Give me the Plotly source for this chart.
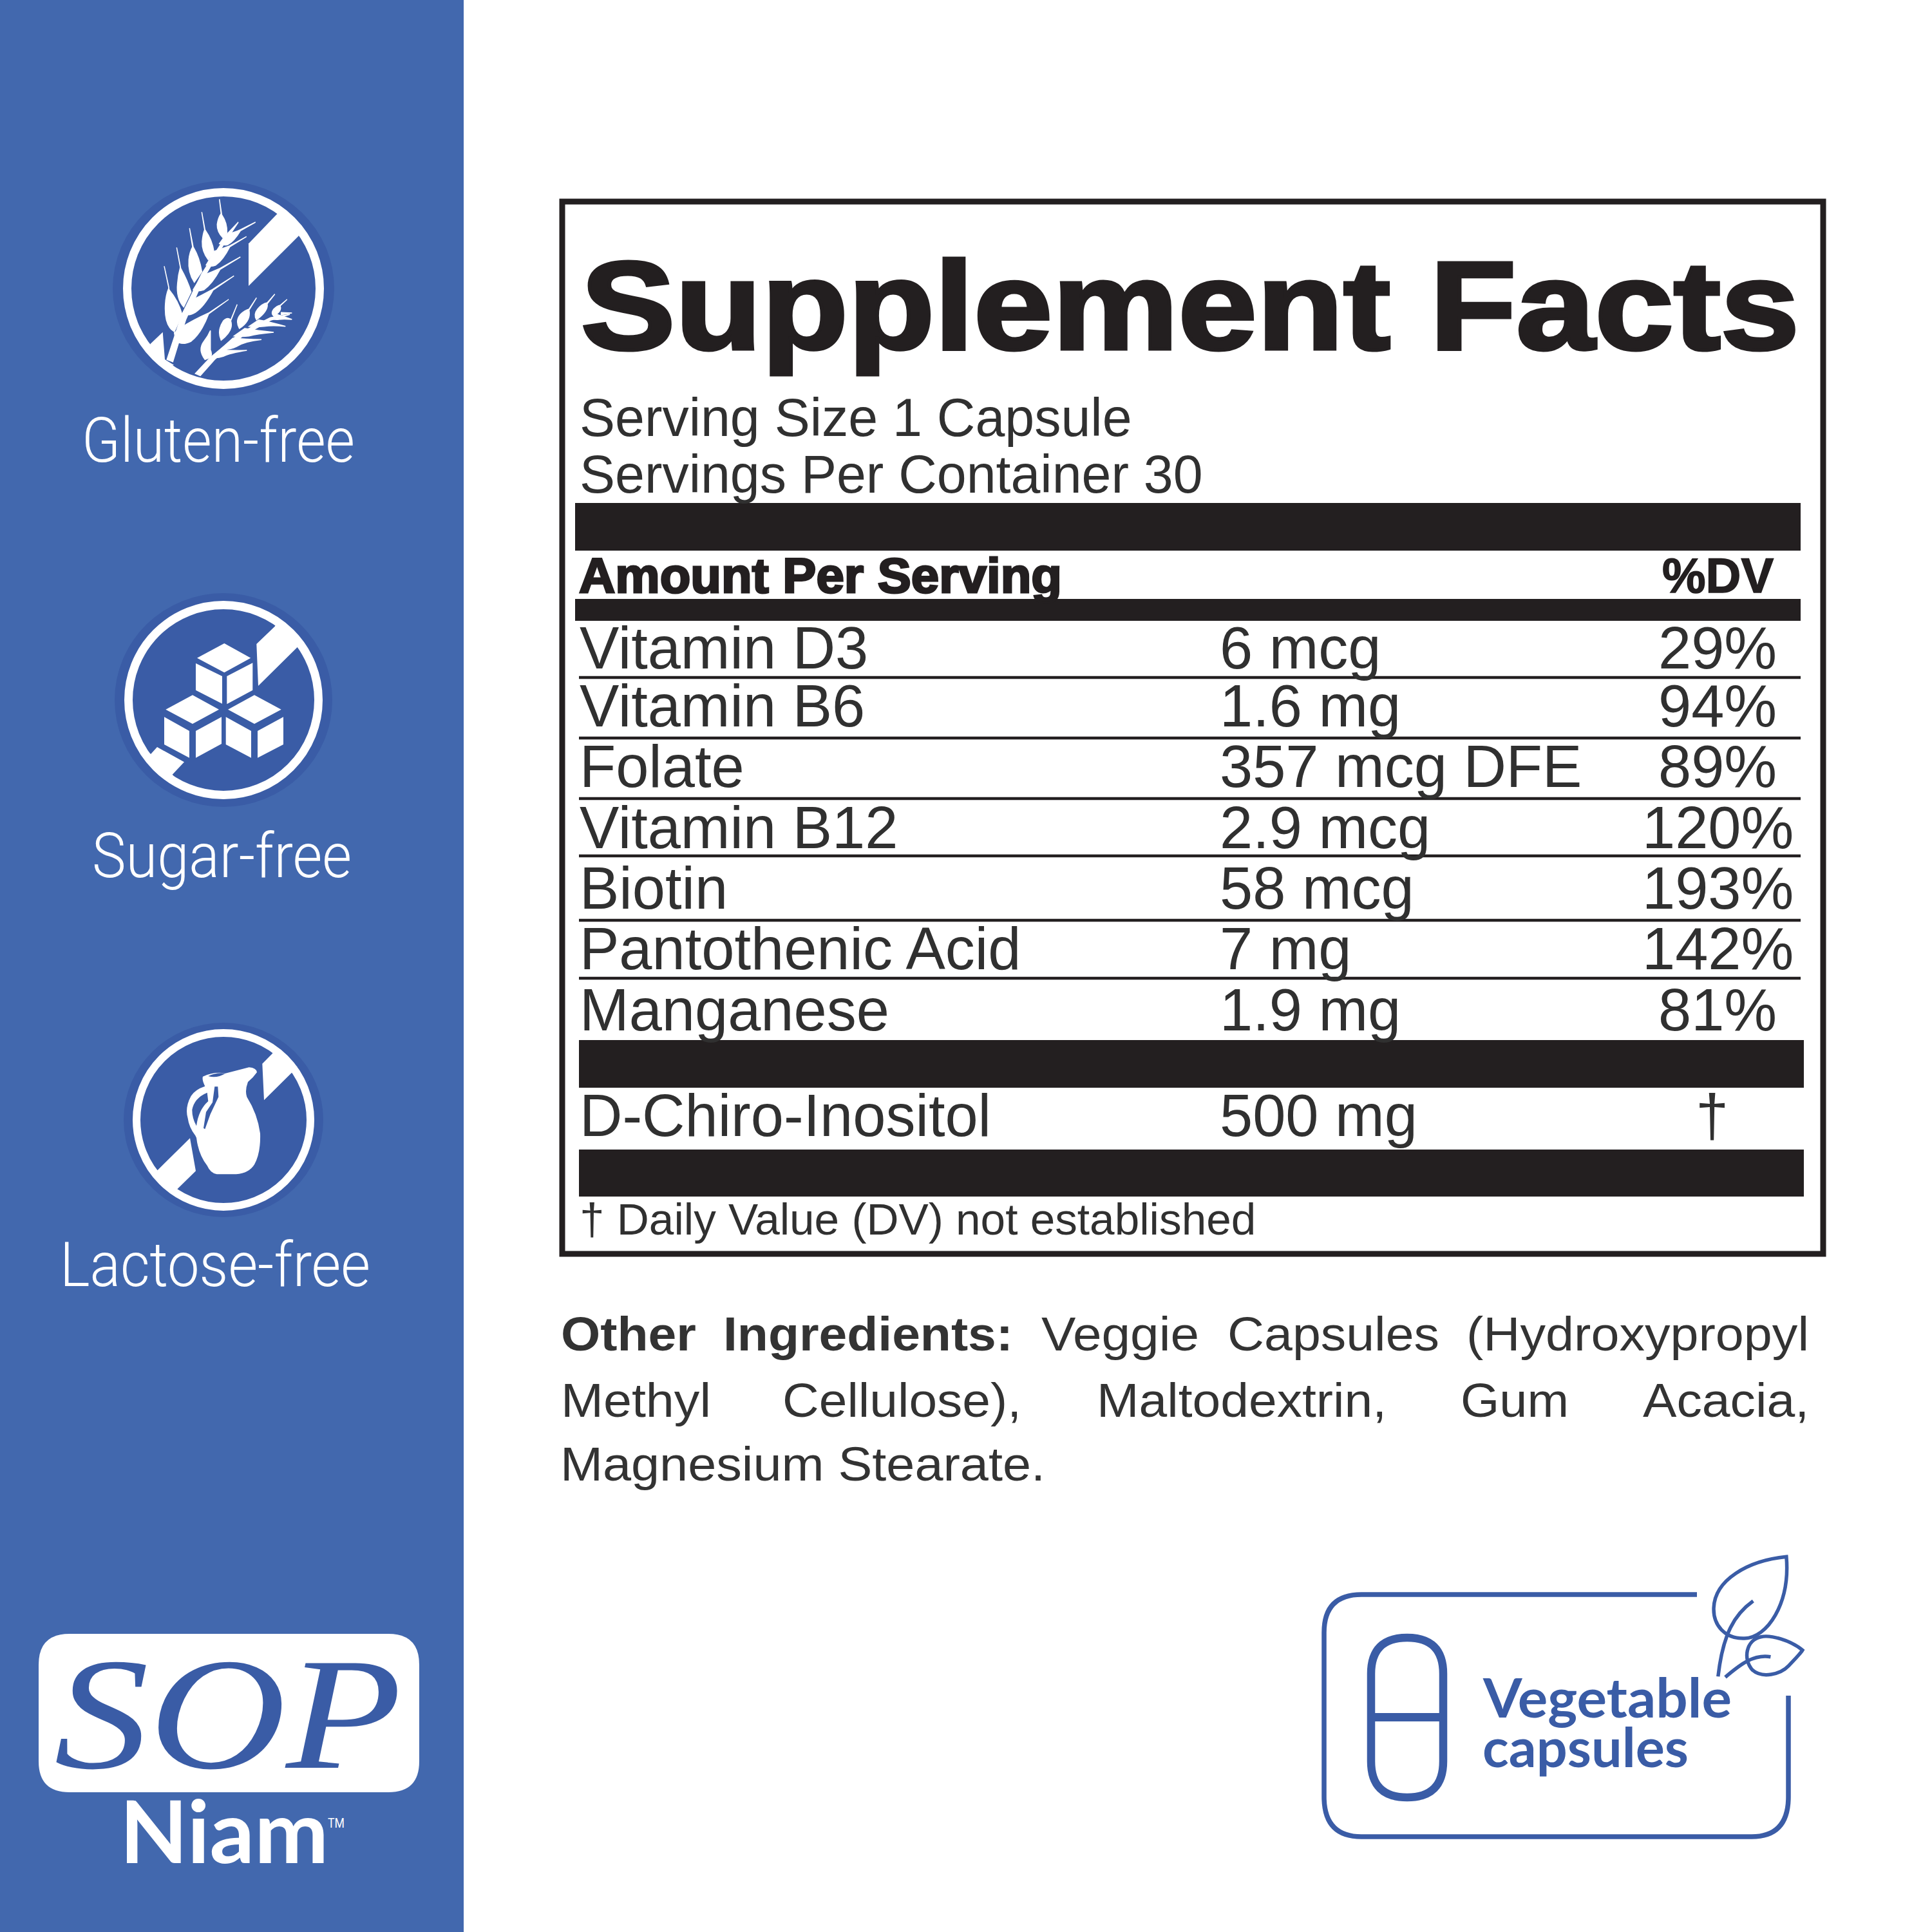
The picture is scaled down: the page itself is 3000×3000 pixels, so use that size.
import json
import re
import plotly.graph_objects as go

# ---------- content ----------
TITLE = "Supplement Facts"
SERVING_LINES = ["Serving Size 1 Capsule", "Servings Per Container 30"]
HEAD_LEFT = "Amount Per Serving"
HEAD_RIGHT = "%DV"
NUTRIENTS = ["Vitamin D3", "Vitamin B6", "Folate", "Vitamin B12", "Biotin", "Pantothenic Acid", "Manganese"]
AMOUNTS = ["6 mcg", "1.6 mg", "357 mcg DFE", "2.9 mcg", "58 mcg", "7 mg", "1.9 mg"]
DV_PERCENT = [29, 94, 89, 120, 193, 142, 81]
BLEND_NAME = "D-Chiro-Inositol"
BLEND_AMOUNT = "500 mg"
BLEND_DV = "†"
FOOTNOTE = "† Daily Value (DV) not established"
BADGES = ["Gluten-free", "Sugar-free", "Lactose-free"]
BRAND_TOP = "SOP"
BRAND_BOTTOM = "Niam"
VEG_LINES = ["Vegetable", "capsules"]
OTHER_BOLD = ["Other", "Ingredients:"]
OTHER_LINE1 = ["Veggie", "Capsules", "(Hydroxypropyl"]
OTHER_LINE2 = ["Methyl", "Cellulose),", "Maltodextrin,", "Gum", "Acacia,"]
OTHER_LINE3 = "Magnesium Stearate."

# ---------- layout constants (pixels of the 3000 x 3000 canvas) ----------
SIDE = "#4268AE"
DISK = "#3A5CA6"
INK = "#231F20"
GREY = "#303030"
ROW_BASE = [1038, 1128, 1222, 1317, 1411, 1505, 1600]
ROW_RULES = [1052, 1146, 1240, 1329, 1429, 1519]
BARS = [(893, 2796, 781, 855), (893, 2796, 930, 964), (899, 2801, 1615, 1689), (899, 2801, 1785, 1858)]
ASC = {"Liberation Sans": 0.905, "Liberation Serif": 0.891, "Roboto": 0.927, "Lato": 0.987}

shapes, annotations, fits = [], [], []


def tf(path, ox, oy, sx=3.0, sy=3.0):
    """Map an outline traced on a zoomed crop to canvas pixels."""
    out, k = [], 0
    for tok in re.findall(r"[A-Za-z]|-?[\d.]+", path):
        if tok.isalpha():
            out.append(tok)
        else:
            v = float(tok)
            v = ox + v / sx if k % 2 == 0 else oy + v / sy
            out.append(f"{v:.1f}")
            k += 1
    return " ".join(out)


def fill(path, color="white", edge=0):
    shapes.append(dict(type="path", path=path, fillcolor=color, line=dict(width=edge, color=color), xref="x", yref="y"))


def stroke(path, width, color=DISK):
    shapes.append(dict(type="path", path=path, fillcolor="rgba(0,0,0,0)", line=dict(width=width, color=color), xref="x", yref="y"))


def rect(x0, x1, y0, y1, color):
    shapes.append(dict(type="rect", x0=x0, x1=x1, y0=y0, y1=y1, fillcolor=color, line=dict(width=0), xref="x", yref="y"))


def disc(cx, cy, rx, ry, color):
    shapes.append(dict(type="circle", x0=cx - rx, x1=cx + rx, y0=cy - ry, y1=cy + ry, fillcolor=color, line=dict(width=0), xref="x", yref="y"))


def ring(cx, cy, r, w):
    shapes.append(dict(type="circle", x0=cx - r, x1=cx + r, y0=cy - r, y1=cy + r, fillcolor="rgba(0,0,0,0)", line=dict(width=w, color="white"), xref="x", yref="y"))


def text(s, x, base, size, family="Liberation Sans", color=INK, weight=400, anchor="left", style="normal", fit=None, adjust="spacingAndGlyphs", heavy=0):
    y = base - ASC[family] * size
    annotations.append(dict(text=s, x=x, y=y, xref="x", yref="y", xanchor=anchor, yanchor="top", align=anchor, showarrow=False,
                            borderpad=0, borderwidth=0,
                            font=dict(family=family, size=size, color=color, weight=weight, style=style)))
    if fit or heavy:
        fits.append([len(annotations) - 1, fit, adjust, heavy, color])


# ---------- side panel ----------
rect(0, 720, 0, 3000, SIDE)

# gluten icon
Z1 = (100, 250)
disc(347, 448, 172, 167, DISK)
ring(347, 448, 149.5, 13)
fill(tf("M988,250 L858,385 L858,582 L1090,350 L1110,320 L1010,230 Z", *Z1))
fill(tf("M403,850 L458,797 L468,925 L510,950 L470,965 L380,880 Z", *Z1))
GLUTEN_WHEAT = [
    "M478,925 L545,720 L640,525 L740,370 L750,375 L655,535 L565,740 L505,935 Z",
    "M465,490 L488,600 Q530,650 548,715 L512,795 Q465,770 470,670 Q472,625 487,590 Z",
    "M523,403 L542,500 Q575,560 590,610 L556,680 Q520,640 527,570 Q530,530 540,495 Z",
    "M583,313 L600,400 Q630,450 640,515 L605,565 Q575,520 580,460 Q583,425 597,400 Z",
    "M640,238 L655,320 Q690,370 697,425 L670,460 Q640,420 642,375 Q645,340 653,320 Z",
    "M722,178 L733,250 Q760,290 757,335 L740,360 Q710,330 712,295 Q716,265 730,245 Z",
    "M545,775 Q600,740 672,708 L765,645 L672,712 Q640,800 590,840 Q550,860 520,840 L512,800 Z",
    "M590,650 Q640,625 690,598 L790,535 L692,602 Q650,680 610,705 Q575,725 555,710 Z",
    "M640,535 Q680,520 725,500 L820,447 L725,505 Q690,570 650,600 Q620,610 600,600 Z",
    "M700,420 Q730,410 770,395 L848,352 L770,400 Q740,460 705,485 Q680,495 660,485 Z",
    "M755,340 Q790,335 820,320 L890,285 L820,325 Q790,375 760,390 Q740,395 722,385 Z",
    "M810,285 L762,335 L775,338 Z",
    "M610,990 L680,915 L820,800 L960,730 L1050,715 L960,742 L830,815 L700,925 L633,1000 Z",
    "M680,790 L680,880 Q690,900 680,915 L655,925 Q620,880 650,840 Q670,815 680,790 Z",
    "M805,668 L775,745 Q790,790 730,835 Q710,790 740,745 Q760,725 775,740 Z",
    "M895,637 L860,695 Q870,745 815,780 Q795,745 820,715 Q840,695 860,690 Z",
    "M980,620 L945,665 Q950,700 895,740 Q880,715 900,690 Q920,665 945,660 Z",
    "M1037,645 L1005,675 Q1015,700 975,722 Q960,710 975,690 Q990,675 1005,672 Z",
    "M850,882 Q770,895 740,910 Q710,920 680,915 L730,880 Q780,885 850,882 Z",
    "M918,832 Q840,840 800,865 Q770,880 730,875 L785,825 Q840,830 918,832 Z",
    "M975,798 Q900,805 860,815 Q825,820 790,815 L840,780 Q900,790 975,798 Z",
    "M1030,770 Q970,765 930,770 Q890,775 860,770 L905,740 Q960,750 1030,770 Z",
    "M1060,738 Q1020,735 1000,738 Q980,740 965,735 L990,715 Q1020,725 1060,738 Z",
    "M1060,708 L1010,706 L1010,716 Z",
]
for p in GLUTEN_WHEAT:
    fill(tf(p, *Z1), edge=1.5)

# sugar icon
Z2 = (100, 900)
disc(347, 1087, 169, 166, DISK)
ring(347, 1087, 147.5, 13)
SUGAR_WHITE = [
    "M980,218 L895,300 L903,495 L1085,315 L1110,290 L1000,190 Z",
    "M403,812 L432,780 L558,850 L503,908 L525,935 L480,920 L380,810 Z",
    "M745,297 L868,365 L745,433 L618,365 Z", "M612,390 L735,450 L735,578 L612,515 Z", "M757,450 L877,388 L877,515 L757,580 Z",
    "M597,538 L720,605 L597,672 L472,605 Z", "M465,640 L582,705 L582,830 L465,768 Z", "M612,705 L732,640 L732,765 L612,830 Z",
    "M885,538 L1010,605 L885,672 L762,605 Z", "M752,640 L870,705 L870,830 L752,768 Z", "M900,705 L1020,640 L1020,768 L900,830 Z",
]
for p in SUGAR_WHITE:
    fill(tf(p, *Z2))

# lactose icon
Z3 = (100, 1560)
disc(347, 1739, 155, 151, DISK)
ring(347, 1739, 135, 12)
fill(tf("M965,232 L922,275 L930,445 L1058,318 L1085,290 L990,205 Z", *Z3))
fill(tf("M435,770 L585,622 L612,775 L530,855 L510,875 L410,785 Z", *Z3))
fill(tf("M645,335 Q700,310 750,320 L860,292 Q895,295 897,315 Q880,340 855,360 Q840,400 850,430 Q900,510 912,600 Q915,690 885,745 Q860,785 800,790 L710,790 Q680,785 665,750 Q625,700 615,620 L610,610 Q580,570 575,530 Q560,480 590,425 Q610,395 655,380 Q640,350 645,335 Z", *Z3))
fill(tf("M665,410 Q605,435 595,490 Q595,530 615,565 Q625,490 670,450 Z", *Z3), DISK)
fill(tf("M700,382 L715,382 L718,430 L680,510 L655,580 L648,575 L660,500 L690,455 Z", *Z3), DISK)
fill(tf("M670,333 Q705,315 750,320 Q710,345 670,333 Z", *Z3), DISK)

text(BADGES[0], 127, 717, 97, "Roboto", "white", 300, fit=424)
text(BADGES[1], 143, 1362, 97, "Roboto", "white", 300, fit=403)
text(BADGES[2], 93, 1997, 97, "Roboto", "white", 300, fit=482)

# brand logo
shapes.append(dict(type="path", xref="x", yref="y", fillcolor="white", line=dict(width=0),
                   path="M108,2537 L603,2537 Q651,2537 651,2585 L651,2735 Q651,2783 603,2783 L108,2783 Q60,2783 60,2735 L60,2585 Q60,2537 108,2537 Z"))
text(BRAND_TOP, 84, 2745, 248, "Liberation Serif", DISK, 400, style="italic", fit=540)
text(BRAND_BOTTOM, 186, 2893, 134, "Lato", "white", 700, fit=324)
text("TM", 509, 2838, 21, "Roboto", "white", 400, fit=26)

# ---------- supplement panel ----------
shapes.append(dict(type="rect", x0=873, x1=2831, y0=313, y1=1947, fillcolor="rgba(0,0,0,0)", line=dict(width=9, color=INK), xref="x", yref="y"))
for x0, x1, y0, y1 in BARS:
    rect(x0, x1, y0, y1, INK)
for y in ROW_RULES:
    rect(899, 2796, y - 2.2, y + 2.2, INK)

text(TITLE, 902, 542, 194, weight=700, fit=1892, heavy=5)
text(SERVING_LINES[0], 900, 677, 82.5, color=GREY)
text(SERVING_LINES[1], 900, 765, 82.5, color=GREY)
text(HEAD_LEFT, 899, 920, 76, weight=700, fit=750, heavy=3)
text(HEAD_RIGHT, 2667, 920, 76, weight=700, anchor="center", heavy=1.5)

COL_NAME, COL_AMOUNT, COL_DV = 900, 1894, 2667
for name, amount, dv, base in zip(NUTRIENTS, AMOUNTS, DV_PERCENT, ROW_BASE):
    text(name, COL_NAME, base, 92, color=GREY)
    text(amount, COL_AMOUNT, base, 92, color=GREY)
    text(f"{dv}%", COL_DV, base, 92, color=GREY, anchor="center")
text(BLEND_NAME, COL_NAME, 1764, 92, color=GREY)
text(BLEND_AMOUNT, COL_AMOUNT, 1764, 92, color=GREY)
text(BLEND_DV, 2658, 1764, 92, color=GREY, anchor="center")
text(FOOTNOTE, 900, 1917, 69.3, color=GREY)

# other ingredients (justified lines: each word has its own slot)
for w, x0, x1 in zip(OTHER_BOLD, (871, 1123), (1081, 1573)):
    text(w, x0, 2097, 75, color="#333333", weight=700, fit=x1 - x0)
for w, x0, x1 in zip(OTHER_LINE1, (1617, 1906, 2277), (1862, 2235, 2809)):
    text(w, x0, 2097, 75, color="#333333", fit=x1 - x0)
for w, x0, x1 in zip(OTHER_LINE2, (871, 1215, 1703, 2268, 2551), (1104, 1586, 2153, 2436, 2809)):
    text(w, x0, 2200, 75, color="#333333", fit=x1 - x0)
text(OTHER_LINE3, 870, 2299, 75, color="#333333", fit=753)

# vegetable capsules badge
Z5 = (2030, 2390, 1.96, 3.0)
stroke("M2635,2476 L2114,2476 Q2056,2476 2056,2535 L2056,2790 Q2056,2852 2114,2852 L2720,2852 Q2777,2852 2777,2790 L2777,2633", 7.5)
stroke("M2129,2599 Q2129,2543 2185,2543 Q2241,2543 2241,2599 L2241,2735 Q2241,2791 2185,2791 Q2129,2791 2129,2735 Z", 12.5)
rect(2129, 2241, 2660, 2673, DISK)
for p in [
    "M1458,82 C1340,100 1240,190 1237,320 C1235,400 1270,465 1330,462 C1400,460 1470,300 1458,82 Z",
    "M1357,288 C1300,350 1265,440 1250,640",
    "M1507,517 C1470,470 1410,445 1380,455 C1335,470 1325,560 1355,610 C1385,650 1440,630 1465,590 C1480,565 1500,535 1507,517 Z",
    "M1410,548 C1360,535 1320,580 1272,643",
]:
    stroke(tf(p, *Z5), 5.5)
text(VEG_LINES[0], 2302, 2667, 84, "Lato", DISK, 700, fit=386)
text(VEG_LINES[1], 2302, 2744, 84, "Lato", DISK, 700, fit=320)

# ---------- figure ----------
fig = go.Figure(go.Scatter(x=[], y=[], hoverinfo="skip", showlegend=False))
fig.update_layout(
    width=3000, height=3000, margin=dict(l=0, r=0, t=0, b=0, pad=0), autosize=False,
    paper_bgcolor="white", plot_bgcolor="white", showlegend=False,
    xaxis=dict(range=[0, 3000], visible=False, fixedrange=True),
    yaxis=dict(range=[3000, 0], visible=False, fixedrange=True),
    shapes=shapes, annotations=annotations,
)
post = """
document.body.style.margin = '0';
var FITS = %s;
FITS.forEach(function (f) {
  var t = document.querySelector('.annotation[data-index="' + f[0] + '"] text');
  if (!t) return;
  if (f[1]) { t.setAttribute('textLength', f[1]); t.setAttribute('lengthAdjust', f[2]); }
  if (f[3]) { t.setAttribute('stroke', f[4]); t.setAttribute('stroke-width', f[3]); }
});
""" % json.dumps(fits)
fig.write_html("out.html", post_script=post, config=dict(displayModeBar=False, staticPlot=True))
